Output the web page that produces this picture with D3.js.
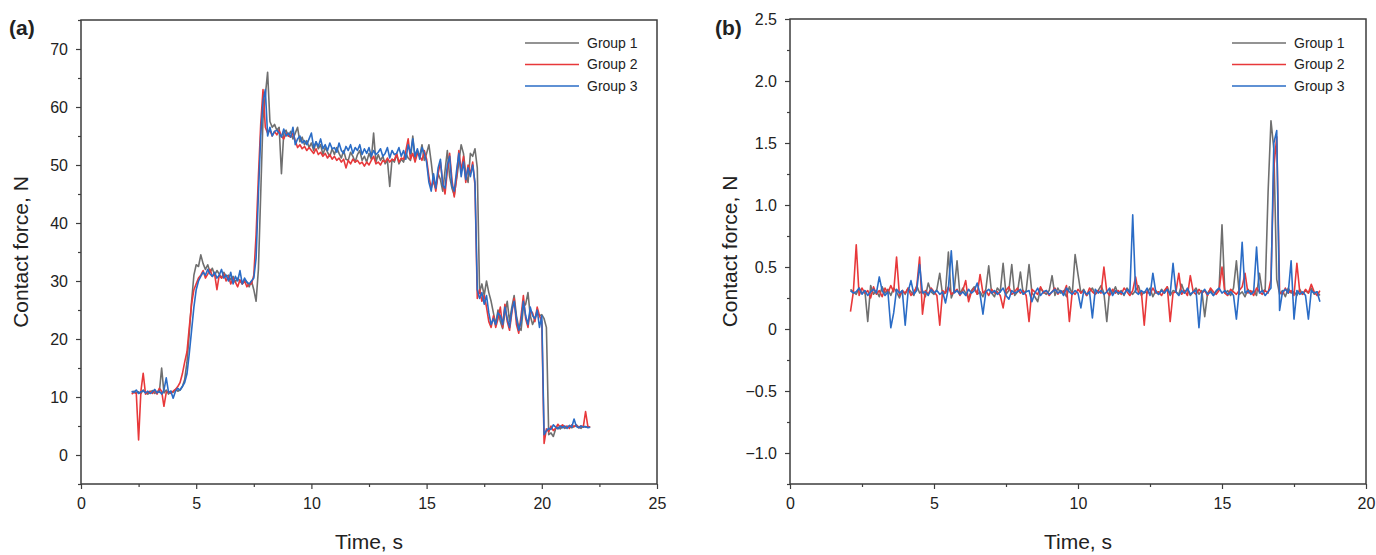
<!DOCTYPE html>
<html><head><meta charset="utf-8">
<script src="https://cdn.jsdelivr.net/npm/d3@7"></script>
<style>
body{margin:0;background:#fff}
svg text{font-family:"Liberation Sans",Arial,Helvetica,sans-serif;fill:#222}
</style>
</head><body>
<svg id="chart" width="1376" height="555"></svg>
<script>
// ---------- DATA ----------
const seriesNames = ["Group 1", "Group 2", "Group 3"];
const seriesColors = ["#6f6f6f", "#e8383a", "#2a6cc6"];

// Panel (a): sampled every 0.1 s from 2.2 s to 22.1 s
const timeA = d3.range(200).map(i => +(2.2 + i * 0.1).toFixed(1));
const forceA_g1 = [
  10.8, 11.0, 10.7, 10.9, 10.6, 11.2, 10.8, 10.5,
  10.9, 11.1, 10.6, 11.0, 10.8, 15.0, 10.7, 11.2, 10.5, 11.0,
  10.8, 11.3, 11.0, 11.2, 11.8, 13.0, 16.0, 21.0, 26.5, 31.0,
  32.8, 32.5, 34.5, 33.0, 32.0, 32.8, 31.5, 32.2, 31.0, 31.8,
  31.2, 30.5, 31.5, 30.8, 31.0, 30.2, 30.8, 29.8, 30.5, 30.0,
  29.5, 30.2, 29.8, 29.0, 30.0, 28.5, 26.5, 32.0, 45.0, 58.0,
  62.0, 66.0, 57.5, 56.5, 57.0, 56.0, 56.5, 48.5, 55.5, 56.0,
  55.0, 55.8, 54.5, 55.5, 56.5, 54.0, 54.8, 53.5, 54.2, 53.0,
  53.8, 52.5, 54.0, 52.8, 53.5, 51.8, 53.0, 52.2, 51.5, 52.8,
  51.8, 53.0, 52.0, 51.2, 52.5, 51.0, 50.8, 52.2, 51.5, 50.5,
  51.8, 52.5, 50.8, 51.5, 50.5, 52.0, 51.0, 55.5, 50.5, 51.8,
  50.8, 51.5, 50.2, 50.8, 46.3, 51.0, 50.5, 51.8, 50.2, 51.0,
  50.5, 52.0, 51.2, 50.8, 55.0, 51.0, 52.5, 51.5, 53.5, 50.8,
  52.0, 53.5, 50.5, 47.0, 46.0, 48.5, 47.5, 45.5, 49.0, 52.5,
  48.0, 46.0, 44.8, 47.5, 50.5, 53.5, 52.0, 48.5, 47.0, 52.0,
  51.5, 52.8, 49.5, 28.0, 29.5, 27.5, 30.0, 28.0, 26.5, 24.5,
  22.5, 25.0, 23.0, 21.8, 24.5, 26.5, 23.0, 25.5, 27.5, 24.0,
  22.0, 21.5, 25.5, 26.0, 28.0, 24.0, 22.5, 23.5, 24.5, 24.0,
  24.2, 23.5, 22.0, 3.5, 3.8, 3.2, 4.5, 4.8, 4.5, 4.9,
  4.6, 4.8, 5.0, 4.7, 4.9, 5.2, 4.8, 4.6, 5.0, 4.8,
  4.9, 4.8
];
const forceA_g2 = [
  10.5, 10.8, 10.6, 2.6, 11.0, 14.1, 10.5, 10.8,
  11.0, 10.6, 11.2, 10.5, 11.5, 11.0, 8.4, 10.8, 11.0, 10.6,
  11.0, 11.3, 11.8, 12.5, 14.0, 16.0, 17.8, 22.0, 26.0, 28.5,
  29.5, 30.5, 31.0, 31.8, 30.5, 31.2, 32.0, 30.8, 31.2, 28.5,
  31.0, 30.5, 31.2, 30.0, 30.8, 29.5, 30.5, 29.8, 29.0, 30.2,
  29.5, 30.0, 29.0, 29.5, 29.5, 31.0, 38.0, 48.0, 57.0, 63.0,
  56.5, 55.5, 56.0, 55.0, 55.8, 55.2, 56.0, 55.0, 54.5, 55.5,
  55.0, 54.8, 55.5, 54.2, 53.0, 53.5, 52.8, 53.2, 52.5, 53.0,
  52.5, 52.0, 52.8, 51.8, 52.2, 51.5, 52.0, 51.2, 51.8, 51.0,
  51.5, 50.8, 51.2, 50.5, 51.0, 49.5, 50.8, 50.2, 51.0, 50.5,
  50.8, 50.2, 50.5, 49.8, 50.5, 50.0, 50.8, 51.5, 50.2, 50.5,
  50.0, 50.8, 50.5, 51.2, 50.5, 51.0, 50.8, 52.0, 50.5, 51.2,
  51.0, 52.5, 54.5, 51.0, 52.0, 50.5, 52.0, 51.5, 50.8, 52.5,
  51.0, 48.0, 46.0, 47.5, 45.5, 48.5, 50.5, 47.0, 45.0, 49.0,
  52.0, 47.5, 44.5, 48.0, 52.5, 49.0, 51.5, 47.0, 50.0, 48.5,
  50.5, 46.5, 27.0, 28.5, 26.5, 27.5, 25.5, 23.0, 22.0, 24.0,
  22.0, 23.5, 25.5, 22.0, 26.0, 23.0, 21.5, 24.5, 27.0, 22.5,
  21.0, 24.0, 27.5, 23.5, 22.0, 25.0, 24.5, 23.0, 25.5, 24.0,
  23.0, 2.0, 4.5, 4.0, 5.0, 4.2, 4.6, 5.3, 4.8, 5.2,
  4.8, 5.0, 4.6, 5.2, 4.9, 5.1, 4.7, 5.0, 4.8, 7.5,
  4.9, 4.8
];
const forceA_g3 = [
  11.0, 10.8, 11.2, 10.6, 10.9, 11.1, 10.7, 11.0,
  10.6, 10.9, 11.3, 10.7, 11.0, 10.5, 11.2, 13.3, 10.8, 11.0,
  9.8, 11.0, 11.5, 11.2, 11.8, 12.5, 14.0, 17.5, 21.5, 25.5,
  28.5, 30.0, 30.8, 31.5, 31.0, 32.0, 31.2, 30.8, 31.5, 30.5,
  31.0, 32.0, 30.5, 31.0, 30.0, 31.5, 29.5, 30.8, 30.0, 31.8,
  29.5, 30.5, 29.8, 29.5, 30.0, 30.5, 34.0, 45.0, 55.0, 61.0,
  63.0, 55.0, 56.5, 55.0, 55.8, 56.0, 55.5, 54.8, 56.2, 55.0,
  55.5, 54.8, 56.5, 53.5, 54.5, 55.0, 53.8, 54.2, 53.5, 54.5,
  55.5, 53.0, 54.0, 53.2, 54.5, 52.8, 53.5, 52.5, 53.8, 52.8,
  53.0, 52.2, 53.8, 52.5, 52.0, 53.2, 52.5, 53.5, 52.0, 53.0,
  52.5, 53.5, 51.8, 52.8, 52.0, 53.0, 51.5, 52.5, 51.8, 52.2,
  52.8, 51.5, 52.0, 53.0, 51.2, 52.5, 51.8, 52.0, 53.0, 51.5,
  52.5, 51.0, 53.5, 52.0, 54.5, 51.5, 52.8, 51.0, 53.0, 52.0,
  50.5, 47.0, 45.5, 48.5, 46.0, 49.5, 51.0, 46.5, 46.0, 50.0,
  51.5, 46.5, 45.5, 49.0, 52.0, 48.0, 50.5, 47.5, 49.5, 48.0,
  50.0, 47.0, 28.5, 27.0, 28.0, 26.0, 27.5, 24.5, 22.5, 23.5,
  22.5, 24.5, 24.0, 22.5, 25.5, 23.5, 22.0, 25.0, 26.5, 23.5,
  21.5, 23.0, 26.5, 24.0, 22.5, 25.5, 24.0, 23.5, 25.0, 22.0,
  24.0, 3.5, 4.2, 4.6, 4.4, 5.2, 4.8, 4.5, 5.0, 4.7,
  5.0, 4.6, 5.1, 4.8, 6.2, 4.9, 4.7, 5.0, 4.8, 4.9,
  4.7, 4.8
];

// Panel (b): sampled every 0.1 s from 2.1 s to 18.4 s
const timeB = d3.range(164).map(i => +(2.1 + i * 0.1).toFixed(1));
const forceB_g1 = [
  0.32, 0.30, 0.28, 0.33, 0.29, 0.31, 0.06, 0.35, 0.28,
  0.31, 0.26, 0.34, 0.29, 0.32, 0.27, 0.33, 0.30, 0.25, 0.31,
  0.28, 0.33, 0.30, 0.27, 0.35, 0.29, 0.31, 0.26, 0.37, 0.30,
  0.28, 0.32, 0.45, 0.27, 0.30, 0.62, 0.25, 0.31, 0.55, 0.28,
  0.33, 0.29, 0.25, 0.31, 0.34, 0.28, 0.30, 0.26, 0.32, 0.51,
  0.29, 0.26, 0.33, 0.30, 0.53, 0.28, 0.31, 0.52, 0.27, 0.30,
  0.46, 0.28, 0.31, 0.52, 0.29, 0.26, 0.22, 0.33, 0.30, 0.28,
  0.31, 0.43, 0.27, 0.33, 0.29, 0.31, 0.26, 0.34, 0.28, 0.60,
  0.44, 0.29, 0.32, 0.27, 0.30, 0.33, 0.28, 0.31, 0.35, 0.29,
  0.06, 0.32, 0.29, 0.34, 0.28, 0.31, 0.27, 0.33, 0.30, 0.28,
  0.31, 0.35, 0.27, 0.30, 0.29, 0.33, 0.26, 0.31, 0.28, 0.32,
  0.29, 0.34, 0.27, 0.31, 0.30, 0.28, 0.36, 0.29, 0.32, 0.27,
  0.30, 0.33, 0.28, 0.31, 0.10, 0.29, 0.32, 0.27, 0.30, 0.33,
  0.84, 0.29, 0.31, 0.27, 0.33, 0.55, 0.28, 0.30, 0.26, 0.32,
  0.29, 0.31, 0.27, 0.45, 0.30, 0.32, 1.10, 1.68, 1.45, 0.40,
  0.28, 0.31, 0.26, 0.33, 0.29, 0.30, 0.27, 0.32, 0.28, 0.31,
  0.29, 0.33, 0.28, 0.30, 0.27
];
const forceB_g2 = [
  0.14, 0.30, 0.68, 0.27, 0.33, 0.29, 0.31, 0.25, 0.34,
  0.28, 0.31, 0.26, 0.33, 0.29, 0.35, 0.30, 0.58, 0.27, 0.31,
  0.29, 0.33, 0.27, 0.30, 0.34, 0.58, 0.12, 0.31, 0.28, 0.33,
  0.30, 0.27, 0.03, 0.31, 0.29, 0.34, 0.28, 0.30, 0.32, 0.27,
  0.31, 0.39, 0.22, 0.30, 0.33, 0.28, 0.44, 0.29, 0.31, 0.27,
  0.32, 0.29, 0.30, 0.27, 0.17, 0.31, 0.34, 0.28, 0.30, 0.33,
  0.29, 0.31, 0.27, 0.06, 0.32, 0.30, 0.28, 0.34, 0.29, 0.31,
  0.27, 0.30, 0.33, 0.28, 0.31, 0.29, 0.35, 0.06, 0.30, 0.28,
  0.32, 0.29, 0.31, 0.27, 0.33, 0.30, 0.28, 0.31, 0.29, 0.50,
  0.30, 0.27, 0.32, 0.29, 0.31, 0.28, 0.33, 0.30, 0.27, 0.31,
  0.42, 0.29, 0.30, 0.03, 0.31, 0.28, 0.33, 0.29, 0.30, 0.27,
  0.31, 0.34, 0.06, 0.29, 0.30, 0.45, 0.28, 0.31, 0.27, 0.43,
  0.30, 0.28, 0.32, 0.29, 0.31, 0.27, 0.33, 0.30, 0.28, 0.31,
  0.50, 0.29, 0.27, 0.32, 0.30, 0.28, 0.31, 0.34, 0.45, 0.29,
  0.31, 0.27, 0.33, 0.30, 0.28, 0.31, 0.29, 0.40, 1.30, 1.55,
  0.30, 0.28, 0.33, 0.29, 0.31, 0.27, 0.53, 0.30, 0.28, 0.32,
  0.29, 0.36, 0.30, 0.27, 0.31
];
const forceB_g3 = [
  0.31, 0.29, 0.30, 0.33, 0.28, 0.31, 0.27, 0.30, 0.32,
  0.29, 0.42, 0.31, 0.27, 0.30, 0.01, 0.13, 0.32, 0.29, 0.31,
  0.03, 0.30, 0.39, 0.28, 0.31, 0.52, 0.29, 0.30, 0.27, 0.32,
  0.29, 0.31, 0.28, 0.30, 0.21, 0.33, 0.63, 0.29, 0.31, 0.28,
  0.30, 0.27, 0.32, 0.29, 0.31, 0.37, 0.28, 0.12, 0.30, 0.32,
  0.29, 0.31, 0.28, 0.30, 0.33, 0.27, 0.24, 0.31, 0.29, 0.30,
  0.32, 0.28, 0.30, 0.31, 0.22, 0.29, 0.33, 0.27, 0.30, 0.31,
  0.28, 0.30, 0.32, 0.29, 0.31, 0.27, 0.33, 0.30, 0.28, 0.31,
  0.29, 0.17, 0.31, 0.28, 0.30, 0.09, 0.32, 0.29, 0.31, 0.28,
  0.30, 0.33, 0.27, 0.31, 0.29, 0.30, 0.28, 0.32, 0.29, 0.92,
  0.30, 0.28, 0.31, 0.29, 0.33, 0.27, 0.45, 0.30, 0.28, 0.31,
  0.29, 0.32, 0.28, 0.53, 0.30, 0.27, 0.31, 0.29, 0.33, 0.28,
  0.30, 0.31, 0.01, 0.29, 0.32, 0.28, 0.30, 0.27, 0.31, 0.33,
  0.29, 0.31, 0.28, 0.30, 0.27, 0.08, 0.32, 0.70, 0.29, 0.31,
  0.28, 0.30, 0.66, 0.29, 0.31, 0.27, 0.30, 0.33, 1.50, 1.60,
  0.15, 0.30, 0.32, 0.29, 0.55, 0.08, 0.31, 0.28, 0.30, 0.27,
  0.08, 0.31, 0.29, 0.30, 0.22
];

// Tick values
const xTicksA = [0, 5, 10, 15, 20, 25];
const yTicksA = [0, 10, 20, 30, 40, 50, 60, 70];
const xTicksB = [0, 5, 10, 15, 20];
const yTicksB = [-1.0, -0.5, 0, 0.5, 1.0, 1.5, 2.0, 2.5];

// ---------- DRAW ----------
const svg = d3.select("#chart");
const axisColor = "#3d3d3d";

function drawPanel(cfg) {
  const x = d3.scaleLinear().domain(cfg.xDomain).range([cfg.left, cfg.right]);
  const y = d3.scaleLinear().domain(cfg.yDomain).range([cfg.bottom, cfg.top]);
  const g = svg.append("g");

  // minor ticks
  g.append("g").attr("transform", `translate(0,${cfg.bottom})`)
    .call(d3.axisBottom(x).tickValues(cfg.xMinor).tickSize(3).tickSizeOuter(0).tickFormat(""))
    .call(s => { s.select(".domain").remove(); s.selectAll("line").attr("stroke", axisColor).attr("stroke-width", 1.2); });
  g.append("g").attr("transform", `translate(${cfg.left},0)`)
    .call(d3.axisLeft(y).tickValues(cfg.yMinor).tickSize(3).tickSizeOuter(0).tickFormat(""))
    .call(s => { s.select(".domain").remove(); s.selectAll("line").attr("stroke", axisColor).attr("stroke-width", 1.2); });

  // major ticks
  const gx = g.append("g").attr("transform", `translate(0,${cfg.bottom})`)
    .call(d3.axisBottom(x).tickValues(cfg.xTicks).tickSize(5).tickSizeOuter(0).tickPadding(9).tickFormat(d3.format("d")));
  gx.select(".domain").remove();
  gx.selectAll("line").attr("stroke", axisColor).attr("stroke-width", 1.2);
  gx.selectAll("text").attr("font-size", 16).attr("fill", "#222").attr("font-family", "Liberation Sans, Arial, sans-serif");

  const gy = g.append("g").attr("transform", `translate(${cfg.left},0)`)
    .call(d3.axisLeft(y).tickValues(cfg.yTicks).tickSize(5).tickSizeOuter(0).tickPadding(8).tickFormat(cfg.yFormat));
  gy.select(".domain").remove();
  gy.selectAll("line").attr("stroke", axisColor).attr("stroke-width", 1.2);
  gy.selectAll("text").attr("font-size", 16).attr("fill", "#222").attr("font-family", "Liberation Sans, Arial, sans-serif");

  // lines
  const line = d3.line().x(d => x(d[0])).y(d => y(d[1]));
  cfg.series.forEach((vals, i) => {
    g.append("path")
      .datum(cfg.time.map((t, j) => [t, vals[j]]))
      .attr("fill", "none")
      .attr("stroke", seriesColors[i])
      .attr("stroke-width", 1.6)
      .attr("stroke-linejoin", "round")
      .attr("d", line);
  });

  // frame
  g.append("rect")
    .attr("x", cfg.left).attr("y", cfg.top)
    .attr("width", cfg.right - cfg.left).attr("height", cfg.bottom - cfg.top)
    .attr("fill", "none").attr("stroke", axisColor).attr("stroke-width", 1.5);

  // legend
  const lg = g.append("g");
  seriesNames.forEach((name, i) => {
    const ly = cfg.legendY + i * 21.5;
    lg.append("line").attr("x1", cfg.legendX).attr("x2", cfg.legendX + 54)
      .attr("y1", ly).attr("y2", ly).attr("stroke", seriesColors[i]).attr("stroke-width", 1.6);
    lg.append("text").attr("x", cfg.legendX + 62).attr("y", ly).attr("dy", "0.35em")
      .attr("font-size", 14).text(name);
  });

  // axis titles
  g.append("text").attr("x", (cfg.left + cfg.right) / 2).attr("y", 549)
    .attr("text-anchor", "middle").attr("font-size", 21).text("Time, s");
  g.append("text").attr("transform", `translate(${cfg.left - 53},${(cfg.top + cfg.bottom) / 2}) rotate(-90)`)
    .attr("text-anchor", "middle").attr("font-size", 21).text("Contact force, N");

  // panel label
  g.append("text").attr("x", cfg.labelX).attr("y", 35)
    .attr("font-size", 21).attr("font-weight", "bold").text(cfg.label);
}

drawPanel({
  left: 81, right: 657, top: 20, bottom: 484,
  xDomain: [0, 25], yDomain: [-5, 75],
  xTicks: xTicksA, yTicks: yTicksA,
  xMinor: [2.5, 7.5, 12.5, 17.5, 22.5],
  yMinor: [-5, 5, 15, 25, 35, 45, 55, 65, 75],
  yFormat: d3.format("d"),
  time: timeA, series: [forceA_g1, forceA_g2, forceA_g3],
  legendX: 525, legendY: 43, label: "(a)", labelX: 9
});

drawPanel({
  left: 790, right: 1366, top: 19, bottom: 484,
  xDomain: [0, 20], yDomain: [-1.25, 2.5],
  xTicks: xTicksB, yTicks: yTicksB,
  xMinor: [2.5, 7.5, 12.5, 17.5],
  yMinor: [-1.25, -0.75, -0.25, 0.25, 0.75, 1.25, 1.75, 2.25],
  yFormat: d => d === 0 ? "0" : d3.format(".1f")(d).replace("-", "\u2212"),
  time: timeB, series: [forceB_g1, forceB_g2, forceB_g3],
  legendX: 1232, legendY: 43, label: "(b)", labelX: 715
});
</script>
</body></html>
